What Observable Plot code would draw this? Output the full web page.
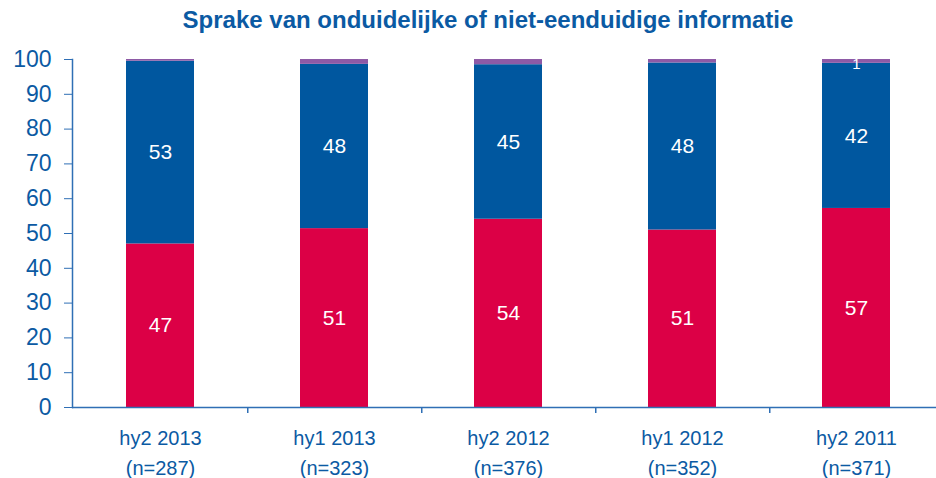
<!DOCTYPE html>
<html>
<head>
<meta charset="utf-8">
<script src="https://cdn.jsdelivr.net/npm/d3@7"></script>
<script src="https://cdn.jsdelivr.net/npm/@observablehq/plot@0.6"></script>
<style>
  html, body { margin: 0; padding: 0; background: #fff; }
  body { width: 936px; height: 478px; overflow: hidden; font-family: "Liberation Sans", Arial, sans-serif; }
  #title { height: 40px; line-height: 40px; text-align: center; color: #0b5aa3; font-weight: bold; font-size: 24px; padding-left: 40px; box-sizing: border-box; }
</style>
</head>
<body>
<div id="title">Sprake van onduidelijke of niet-eenduidige informatie</div>
<div id="chart"></div>
<script>
const categories = ["hy2 2013", "hy1 2013", "hy2 2012", "hy1 2012", "hy2 2011"];
const sampleSizes = ["(n=287)", "(n=323)", "(n=376)", "(n=352)", "(n=371)"];
const seriesNames = ["rood", "blauw", "paars"];
const redValues = [47.0, 51.4, 54.1, 51.0, 57.2];
const blueValues = [52.5, 47.2, 44.4, 48.0, 41.7];
const purpleValues = [0.5, 1.4, 1.5, 1.0, 1.1];
const redLabels = ["47", "51", "54", "51", "57"];
const blueLabels = ["53", "48", "45", "48", "42"];
const purpleLabels = ["", "", "", "", "1"];
const yTicks = [0, 10, 20, 30, 40, 50, 60, 70, 80, 90, 100];
const colors = ["#dc0046", "#00579f", "#8e5aa6"];

const seriesValues = [redValues, blueValues, purpleValues];
const seriesLabels = [redLabels, blueLabels, purpleLabels];
const data = [];
seriesNames.forEach((s, si) => {
  categories.forEach((c, ci) => {
    data.push({cat: c, series: s, value: seriesValues[si][ci], label: seriesLabels[si][ci]});
  });
});
const catLabel = new Map(categories.map((c, i) => [c, c + "\n" + sampleSizes[i]]));

const step = 174.5;
const axisColor = "#2f6fb5";
const textColor = "#0b5aa3";

const chart = Plot.plot({
  width: 936,
  height: 438,
  marginTop: 19,
  marginBottom: 71,
  marginLeft: 72,
  marginRight: 0,
  style: {fontFamily: "'Liberation Sans', Arial, sans-serif", background: "#fff"},
  x: {domain: categories, range: [72, 72 + step * 5], paddingInner: 0.61, paddingOuter: 0.305, axis: null, label: null},
  y: {domain: [0, 100], axis: null, label: null},
  color: {domain: seriesNames, range: colors},
  marks: [
    Plot.barY(data, Plot.stackY({x: "cat", y: "value", fill: "series"})),
    Plot.text(data, Plot.stackY({x: "cat", y: "value", text: d => d.series === "paars" ? "" : d.label, fill: "white", fontSize: 21})),
    Plot.text(data, Plot.stackY({x: "cat", y: "value", text: d => d.series === "paars" ? d.label : "", fill: "white", fontSize: 15, dy: 3})),
    Plot.frame({anchor: "left", stroke: axisColor, strokeWidth: 1.5}),
    Plot.ruleY([0], {stroke: axisColor, strokeWidth: 1.5}),
    Plot.axisY({ticks: yTicks, tickSize: 8, tickPadding: 13, fontSize: 23, color: textColor, stroke: axisColor, strokeOpacity: 1, label: null, tickFormat: d => String(d)}),
    Plot.axisX({tickSize: 6, tickFormat: null, dx: step / 2, stroke: axisColor, strokeOpacity: 1, strokeWidth: 1.5, label: null}),
    Plot.axisX({tickSize: 0, tickPadding: 16, fontSize: 20, color: textColor, lineHeight: 1.5, label: null, tickFormat: d => catLabel.get(d)})
  ]
});
document.getElementById("chart").appendChild(chart);
</script>
</body>
</html>
